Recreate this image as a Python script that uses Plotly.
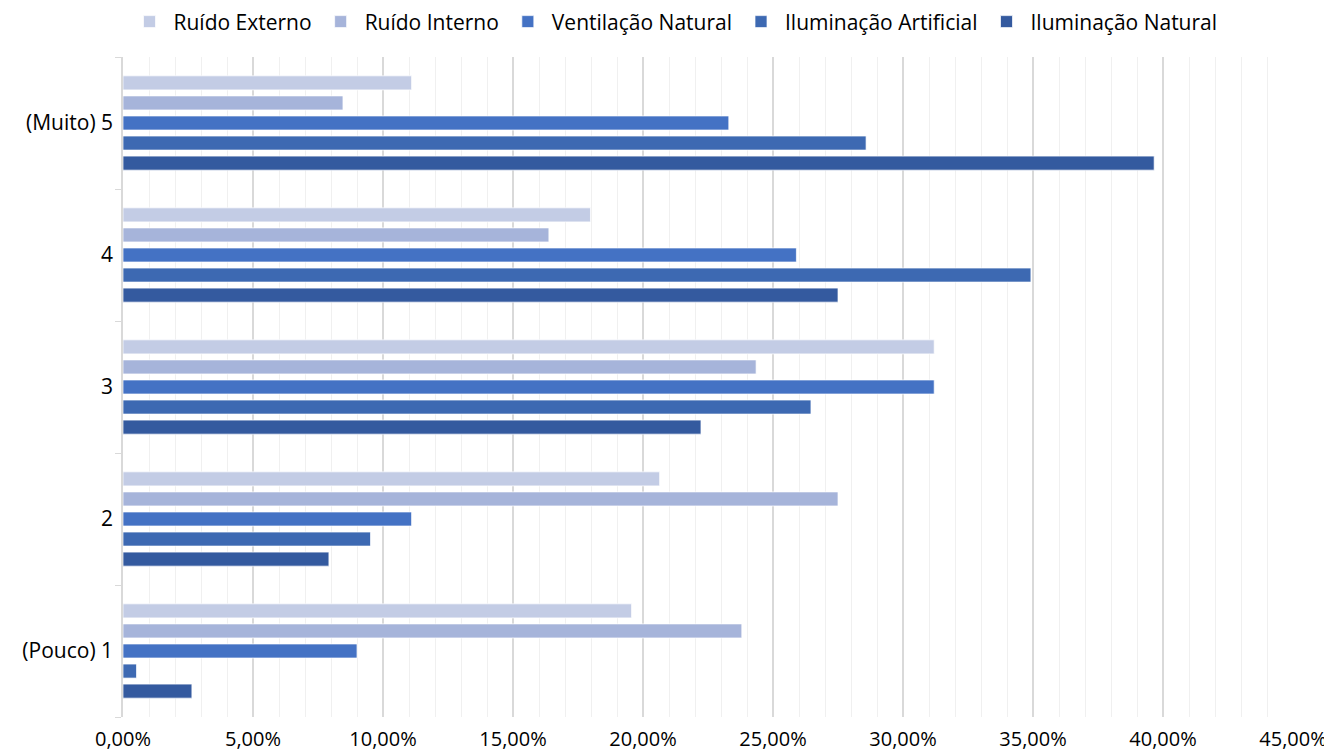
import plotly.graph_objects as go

categories = ["(Pouco) 1", "2", "3", "4", "(Muito) 5"]

ruido_externo = [19.56, 20.64, 31.20, 17.98, 11.10]
ruido_interno = [23.80, 27.50, 24.35, 16.38, 8.46]
ventilacao_natural = [9.00, 11.10, 31.20, 25.90, 23.30]
iluminacao_artificial = [0.52, 9.52, 26.46, 34.92, 28.58]
iluminacao_natural = [2.65, 7.92, 22.23, 27.50, 39.66]

x_ticks = [0, 5, 10, 15, 20, 25, 30, 35, 40, 45]
x_tick_labels = [f"{v:.2f}%".replace(".", ",") for v in x_ticks]

series = [
    ("Iluminação Natural", iluminacao_natural, "#345A9F"),
    ("Iluminação Artificial", iluminacao_artificial, "#3D69B2"),
    ("Ventilação Natural", ventilacao_natural, "#4472C4"),
    ("Ruído Interno", ruido_interno, "#A6B4DA"),
    ("Ruído Externo", ruido_externo, "#C3CCE5"),
]

FONT = "Open Sans"
FS = 21

fig = go.Figure()
for name, vals, color in series:
    fig.add_trace(go.Bar(
        y=categories, x=vals, name=name, orientation="h",
        marker=dict(color=color, line=dict(color="rgba(255,255,255,0.7)", width=1)),
    ))

fig.update_layout(
    width=1332, height=755,
    margin=dict(l=115, r=47, t=49, b=46),
    paper_bgcolor="white", plot_bgcolor="white",
    barmode="group", bargap=0.24, bargroupgap=0.3,
    font=dict(family=FONT, size=FS, color="#000000"),
    legend=dict(
        orientation="h", traceorder="reversed",
        xref="container", x=0.5, xanchor="center",
        yref="container", y=0.9815, yanchor="middle",
        font=dict(family=FONT, size=FS, color="#000000"),
        itemwidth=38,
    ),
    xaxis=dict(
        range=[0, 45], tickvals=x_ticks, ticktext=x_tick_labels,
        showgrid=True, gridcolor="#D9D9D9", gridwidth=1.5,
        minor=dict(dtick=1, showgrid=True, gridcolor="#F0F0F0", gridwidth=1),
        zeroline=False, showline=False, ticks="",
        ticklabelstandoff=8, automargin=False,
        tickfont=dict(family=FONT, size=20, color="#000000"),
        fixedrange=True,
    ),
    yaxis=dict(
        type="category", categoryorder="array", categoryarray=categories,
        showline=True, linecolor="#D9D9D9", linewidth=1.5,
        ticks="outside", tickson="boundaries", ticklen=6, tickcolor="#D9D9D9",
        showgrid=False, zeroline=False,
        ticklabelstandoff=4, automargin=False,
        tickfont=dict(family=FONT, size=FS, color="#000000"),
        fixedrange=True,
    ),
)

fig.write_html("out.html")
